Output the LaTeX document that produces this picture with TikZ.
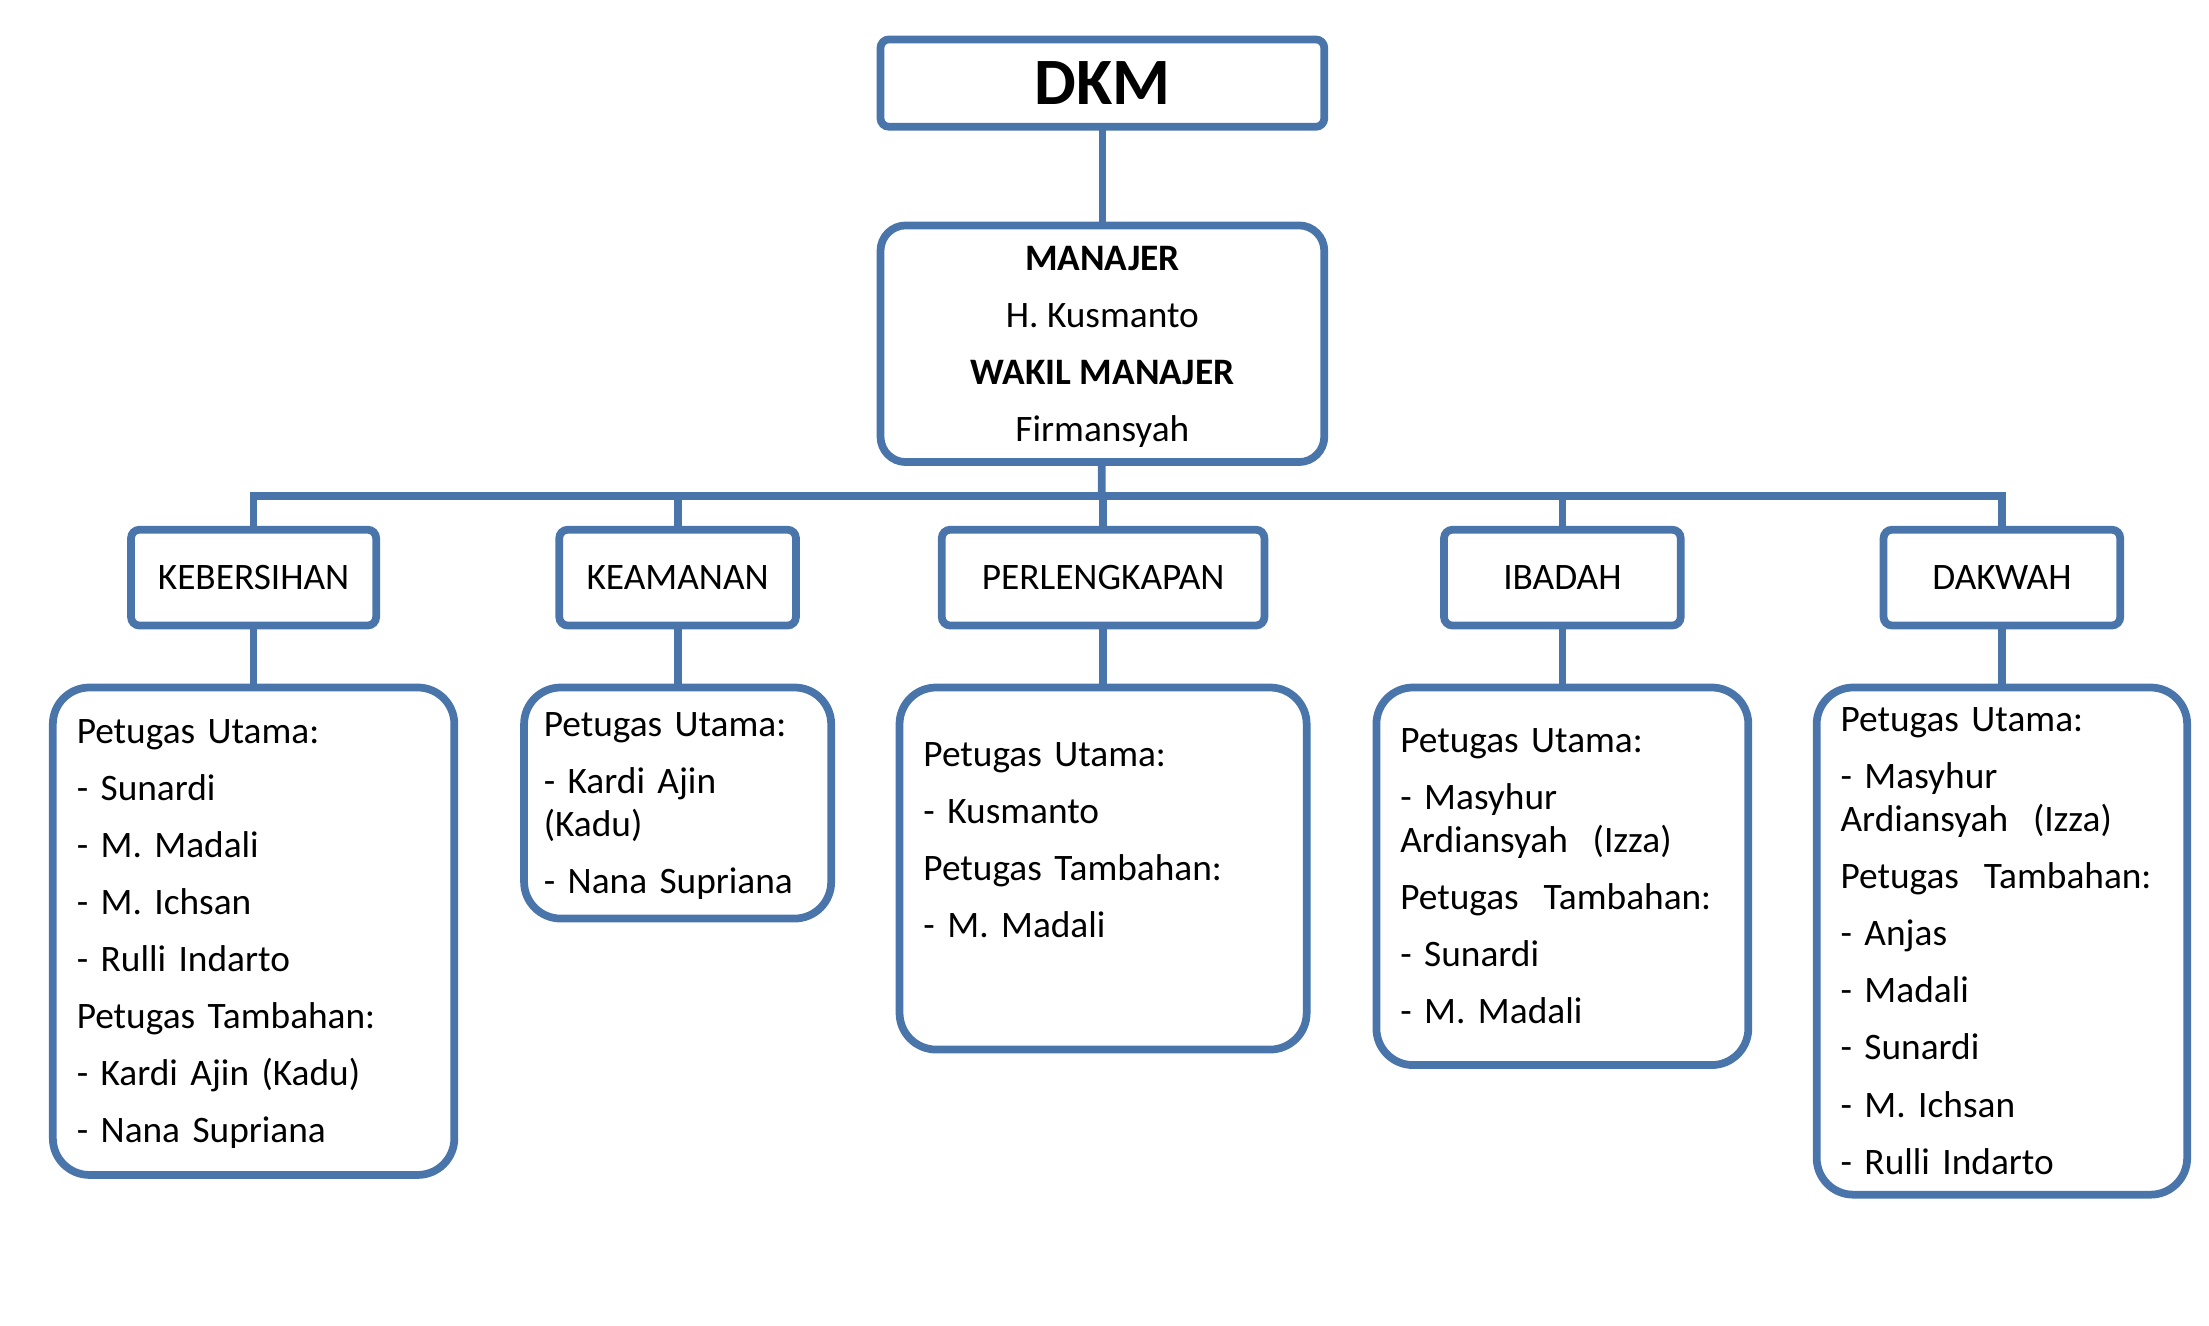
\documentclass[tikz,border=0pt]{standalone}
\usepackage{fontspec}
\setmainfont{Carlito}
\usepackage{tikz}
\usetikzlibrary{positioning}
\definecolor{dkmblue}{RGB}{74,117,170}
\tikzset{
	kotak/.style={draw=dkmblue, line width=5.5pt, fill=white, inner sep=0pt, outer sep=0pt, font=\fontsize{26.5}{30.5}\selectfont},
	kepala/.style={kotak, text depth=0pt, rounded corners=6pt, minimum width=315pt},
	bidang/.style={kotak, text depth=0pt, rounded corners=6pt, minimum height=68pt},
	petugas/.style={kotak, rounded corners=26pt, anchor=north, align=left, inner xsep=17pt},
	garis/.style={dkmblue, line width=5.5pt},
}

\begin{document}
\begin{tikzpicture}[x=1pt, y=-1pt]
	\useasboundingbox (0,0) rectangle (1568,941);
	\node[kepala, minimum height=62pt, font=\fontsize{47}{50}\bfseries\selectfont] (dkm) at (782.5,59) {DKM};
	\node[kepala, minimum height=168pt, rounded corners=18pt, align=center] (manajer) at (782.5,244)
		{\textbf{MANAJER}\\[10pt]H. Kusmanto\\[10pt]\textbf{WAKIL MANAJER}\\[10pt]Firmansyah};
	\coordinate (bus) at (782,352);
	\node[bidang, minimum width=174pt] (kebersihan) at (180,410) {KEBERSIHAN};
	\node[bidang, minimum width=168pt] (keamanan) at (481,410) {KEAMANAN};
	\node[bidang, minimum width=229pt] (perlengkapan) at (783,410) {PERLENGKAPAN};
	\node[bidang, minimum width=168pt] (ibadah) at (1109,410) {IBADAH};
	\node[bidang, minimum width=168pt] (dakwah) at (1421,410) {DAKWAH};
	\node[petugas, text width=251pt, minimum height=346pt] (tim-kebersihan) at (180,488)
		{Petugas Utama:\\[10pt]- Sunardi\\[10pt]- M. Madali\\[10pt]- M. Ichsan\\[10pt]- Rulli Indarto\\[10pt]Petugas Tambahan:\\[10pt]- Kardi Ajin (Kadu)\\[10pt]\raisebox{0pt}[\height][0pt]{- Nana Supriana}};
	\node[petugas, inner xsep=14pt, text width=190pt, minimum height=164pt] (tim-keamanan) at (481,488)
		{Petugas Utama:\\[10pt]- Kardi Ajin\\(Kadu)\\[10pt]\raisebox{0pt}[\height][0pt]{- Nana Supriana}};
	\node[petugas, text width=255pt, minimum height=257pt] (tim-perlengkapan) at (783,488)
		{Petugas Utama:\\[10pt]- Kusmanto\\[10pt]Petugas Tambahan:\\[10pt]- M. Madali\\[10pt]\mbox{}};
	\node[petugas, text width=230pt, minimum height=268pt] (tim-ibadah) at (1109,488)
		{Petugas Utama:\\[10pt]- Masyhur\\Ardiansyah\ \ (Izza)\\[10pt]Petugas\ \ Tambahan:\\[10pt]- Sunardi\\[10pt]- M. Madali};
	\node[petugas, text width=229pt, minimum height=360pt] (tim-dakwah) at (1421,488)
		{Petugas Utama:\\[10pt]- Masyhur\\Ardiansyah\ \ (Izza)\\[10pt]Petugas\ \ Tambahan:\\[10pt]- Anjas\\[10pt]- Madali\\[10pt]- Sunardi\\[10pt]- M. Ichsan\\[10pt]- Rulli Indarto};
	\draw[garis] (dkm) -- (manajer);
	\draw[garis] (manajer) -- (bus);
	\draw[garis] (kebersihan.north) |- (bus) -| (dakwah.north);
	\draw[garis] (keamanan.north) -- (keamanan.north |- bus);
	\draw[garis] (perlengkapan.north) -- (perlengkapan.north |- bus);
	\draw[garis] (ibadah.north) -- (ibadah.north |- bus);
	\draw[garis] (kebersihan) -- (tim-kebersihan);
	\draw[garis] (keamanan) -- (tim-keamanan);
	\draw[garis] (perlengkapan) -- (tim-perlengkapan);
	\draw[garis] (ibadah) -- (tim-ibadah);
	\draw[garis] (dakwah) -- (tim-dakwah);
\end{tikzpicture}
\end{document}
